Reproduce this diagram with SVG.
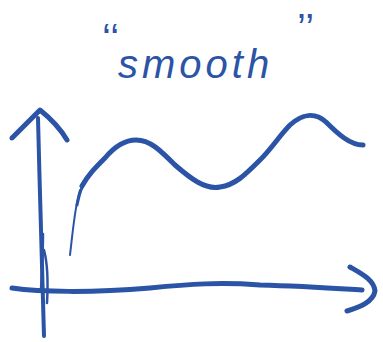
<svg xmlns="http://www.w3.org/2000/svg" width="383" height="342" viewBox="0 0 383 342">
<style>
.ink{fill:none;stroke:#2B53A6;stroke-linecap:round;stroke-linejoin:round}
.t{fill:#2B53A6;font-family:"Liberation Sans",Arial,sans-serif}
</style>
<rect width="383" height="342" fill="#fff"/>
<g id="title">
<text class="t" x="102" y="52" font-size="40">‘‘</text>
<text class="t" x="118" y="78" font-size="40" font-style="italic" letter-spacing="4">smooth</text>
<text class="t" x="297" y="42" font-size="40">’’</text>
</g>
<g id="connectors">
<g id="y-axis">
<path class="ink" stroke-width="4" d="M44,336 C43,300 40,200 38,118"/>
<path class="ink" stroke-width="5" d="M12,138 C22,128 32,118 40,110 C50,118 60,128 67,140"/>
<path class="ink" stroke-width="2.5" d="M43,234 C43,250 42,270 41,290 M44,250 C48,265 48,285 47,303"/>
</g>
<g id="x-axis">
<path class="ink" stroke-width="5" d="M12,288 C40,292 90,293 150,288 C190,284 220,282 260,285 C300,286 330,288 362,290"/>
<path class="ink" stroke-width="5" d="M350,267 C362,274 374,280 375,291 C373,302 360,307 347,311"/>
</g>
<g id="curve">
<path class="ink" stroke-width="2" d="M70,255 C73,230 75,205 80,190"/>
<path class="ink" stroke-width="3" d="M77,205 C79,195 81,187 86,180"/>
<path class="ink" stroke-width="5" d="M82,186 C88,175 95,168 105,158 C115,146 125,140 136,140 C150,140 160,150 175,165 C190,178 205,190 220,187 C235,185 245,175 260,160 C272,148 280,135 290,125 C302,114 315,112 326,122 C338,134 350,145 363,145"/>
</g>
</g>
</svg>
